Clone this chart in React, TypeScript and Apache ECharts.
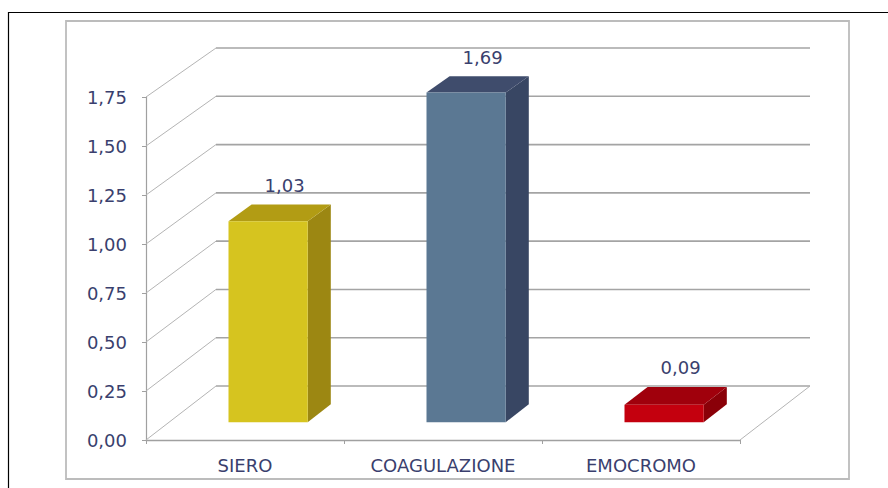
import React, { useEffect, useRef } from "react";
import * as echarts from "echarts";

// Exam categories and their values
const CATEGORIES = ["SIERO", "COAGULAZIONE", "EMOCROMO"];
const VALUES = [1.03, 1.69, 0.09];

// Value-axis ticks (also used for the back-wall grid lines)
const Y_TICKS = [0, 0.25, 0.5, 0.75, 1, 1.25, 1.5, 1.75];

// Face colours of each 3D bar
const FRONT_COLORS = ["#d6c41f", "#5b7893", "#c4000e"];
const SIDE_COLORS = ["#9c8712", "#384663", "#8a0008"];
const TOP_COLORS = ["#b29c14", "#3f4c6c", "#a0000c"];

const TEXT_COLOR = "#3a3f6e";
const FONT = "DejaVu Sans";
const FONT_SIZE = 18;

// Oblique projection of the floor/back wall depth
const DEPTH_DX = 70;
const DEPTH_DY = -54;
const DEPTH_SHRINK = 0.0146;
const BAR_DEPTH_FRONT = 0.33;
const BAR_DEPTH_BACK = 0.66;
const BAR_WIDTH_RATIO = 0.4;

const fmt = (v: number) => v.toFixed(2).replace(".", ",");

function project(x: number, y: number, d: number, floorY: number): number[] {
  return [
    x + DEPTH_DX * d,
    floorY + (y - floorY) * (1 - DEPTH_SHRINK * d) + DEPTH_DY * d,
  ];
}

export default function App() {
  const ref = useRef<HTMLDivElement>(null);

  useEffect(() => {
    document.body.style.margin = "0";
    if (!ref.current) return;
    const chart = echarts.init(ref.current, null, { renderer: "svg" });

    const wallRender = (params: any, api: any) => {
      const cs = params.coordSys;
      const v = api.value(1);
      const floorY = cs.y + cs.height;
      const y = api.coord([0, v])[1];
      const x0 = cs.x;
      const x1 = cs.x + cs.width;
      const back0 = project(x0, y, 1, floorY);
      const back1 = project(x1, y, 1, floorY);
      const children: any[] = [
        {
          type: "line",
          shape: { x1: x0, y1: y, x2: back0[0], y2: back0[1] },
          style: { stroke: "#b4b4b4", lineWidth: 1 },
        },
        {
          type: "line",
          shape: { x1: back0[0], y1: back0[1], x2: back1[0], y2: back1[1] },
          style: { stroke: "#a4a4a4", lineWidth: 1.6 },
        },
      ];
      if (v === 0) {
        children.push({
          type: "line",
          shape: { x1: x1, y1: y, x2: back1[0], y2: back1[1] },
          style: { stroke: "#b4b4b4", lineWidth: 1 },
        });
      }
      return { type: "group", children };
    };

    const barRender = (params: any, api: any) => {
      const cs = params.coordSys;
      const floorY = cs.y + cs.height;
      const i = api.value(0);
      const v = api.value(1);
      const cx = api.coord([i, 0])[0];
      const bw = api.size([1, 0])[0] * BAR_WIDTH_RATIO;
      const yTop = api.coord([i, v])[1];
      const yBot = api.coord([i, 0])[1];
      const L = cx - bw / 2;
      const R = cx + bw / 2;
      const d1 = BAR_DEPTH_FRONT;
      const d2 = BAR_DEPTH_BACK;
      const p = (x: number, y: number, d: number) => project(x, y, d, floorY);
      const front = [p(L, yTop, d1), p(R, yTop, d1), p(R, yBot, d1), p(L, yBot, d1)];
      const side = [p(R, yTop, d1), p(R, yTop, d2), p(R, yBot, d2), p(R, yBot, d1)];
      const top = [p(L, yTop, d1), p(L, yTop, d2), p(R, yTop, d2), p(R, yTop, d1)];
      const topCenterX = (front[0][0] + front[1][0] + top[1][0] + top[2][0]) / 4;
      const backTopY = top[1][1];
      return {
        type: "group",
        children: [
          { type: "polygon", shape: { points: side }, style: { fill: SIDE_COLORS[i] } },
          { type: "polygon", shape: { points: top }, style: { fill: TOP_COLORS[i] } },
          { type: "polygon", shape: { points: front }, style: { fill: FRONT_COLORS[i] } },
          {
            type: "text",
            x: topCenterX + 5,
            y: backTopY - 19,
            style: {
              text: fmt(v),
              fill: TEXT_COLOR,
              font: `${FONT_SIZE}px "${FONT}"`,
              textAlign: "center",
              textVerticalAlign: "middle",
            },
          },
        ],
      };
    };

    chart.setOption({
      animation: false,
      backgroundColor: "#ffffff",
      graphic: [
        {
          type: "rect",
          shape: { x: 8.5, y: 12.5, width: 900, height: 500 },
          style: { fill: "none", stroke: "#000000", lineWidth: 1.2 },
          silent: true,
        },
        {
          type: "rect",
          shape: { x: 66, y: 21, width: 783, height: 458 },
          style: { fill: "none", stroke: "#bcbcbc", lineWidth: 1.8 },
          silent: true,
        },
      ],
      grid: { left: 146, top: 97, width: 594, height: 343 },
      xAxis: {
        type: "category",
        data: CATEGORIES,
        axisLine: { lineStyle: { color: "#a0a0a0", width: 1.4 } },
        axisTick: { show: true, length: 4, lineStyle: { color: "#a0a0a0" } },
        axisLabel: { color: TEXT_COLOR, fontSize: FONT_SIZE, fontFamily: FONT, margin: 16 },
        splitLine: { show: false },
      },
      yAxis: {
        type: "value",
        min: 0,
        max: 1.75,
        interval: 0.25,
        axisLine: { show: true, lineStyle: { color: "#a0a0a0", width: 1.2 } },
        axisTick: { show: true, length: 4, lineStyle: { color: "#a0a0a0" } },
        axisLabel: {
          color: TEXT_COLOR,
          fontSize: FONT_SIZE,
          fontFamily: FONT,
          margin: 19,
          formatter: (v: number) => fmt(v),
        },
        splitLine: { show: false },
      },
      series: [
        {
          type: "custom",
          silent: true,
          renderItem: wallRender,
          data: Y_TICKS.map((v) => [0, v]),
          encode: { x: 0, y: 1 },
          z: 1,
        },
        {
          type: "custom",
          silent: true,
          renderItem: barRender,
          data: VALUES.map((v, i) => [i, v]),
          encode: { x: 0, y: 1 },
          z: 3,
        },
      ],
    });

    return () => chart.dispose();
  }, []);

  return <div ref={ref} style={{ width: 888, height: 488 }} />;
}
